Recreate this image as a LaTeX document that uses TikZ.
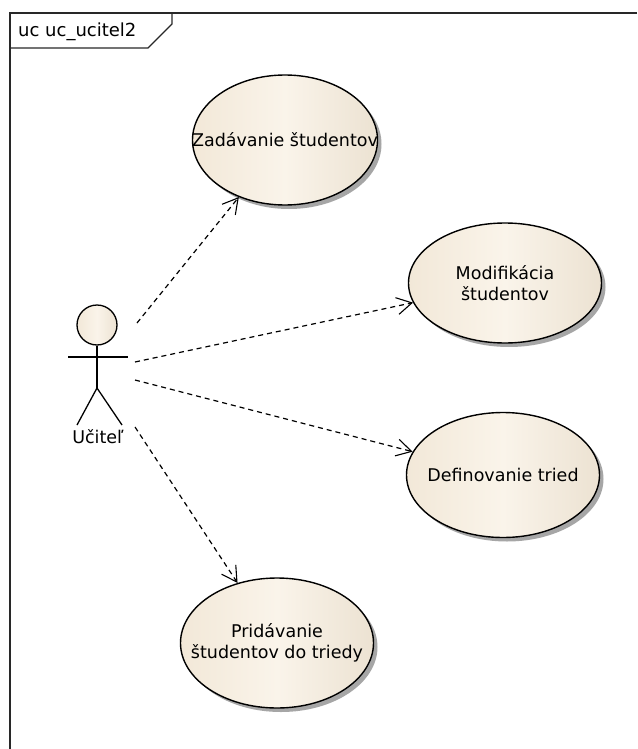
\documentclass[tikz,border=0pt]{standalone}
\usepackage{fontspec}
\setmainfont{DejaVu Sans}
\usetikzlibrary{shapes.geometric,shadows,arrows.meta}
\definecolor{ucL}{RGB}{242,232,216}
\definecolor{ucM}{RGB}{250,244,234}
\definecolor{ucR}{RGB}{236,226,210}
\definecolor{frameC}{RGB}{40,40,40}
\tikzset{
  usecase/.style={ellipse, draw=black, line width=1.4pt, inner sep=-60pt,
    minimum width=193pt, minimum height=130pt, align=center,
    left color=ucL, right color=ucR, middle color=ucM,
    font=\fontsize{17.5}{21}\selectfont,
    drop shadow={shadow xshift=4pt, shadow yshift=-4pt, fill=black!35, opacity=1}},
  assoc/.style={line width=1.2pt, dash pattern=on 5pt off 4pt,
    -{Straight Barb[length=15pt,width=17pt,line width=1.1pt]}},
  actorline/.style={line width=1.3pt, draw=black},
  framebox/.style={line width=1.4pt, draw=frameC}
}
\begin{document}
\begin{tikzpicture}[x=1pt,y=-1pt]
  \useasboundingbox (0,0) rectangle (637,749);
  \fill[white] (0,0) rectangle (637,749);

  % diagram frame with name tab
  \draw[framebox] (637,13) -- (10,13) -- (10,749);
  \draw[framebox] (10,48) -- (148,48) -- (172,24) -- (172,13);
  \node[anchor=base west, font=\fontsize{18}{20}\selectfont, inner sep=0pt] (title) at (18,37) {uc uc\_ucitel2};

  % actor
  \node[circle, draw=black, line width=1.3pt, minimum size=40pt, inner sep=0pt,
        left color=ucL, right color=ucR, middle color=ucM] (head) at (97,325) {};
  \coordinate (hip) at (97,388);
  \coordinate (armL) at (68,357);
  \coordinate (armR) at (128,357);
  \coordinate (footL) at (77,425);
  \coordinate (footR) at (122,425);
  \draw[actorline] (head.south) -- (hip);
  \draw[actorline] (armL) -- (armR);
  \draw[actorline] (footL) -- (hip) -- (footR);
  \node[font=\fontsize{17.5}{20}\selectfont, inner sep=0pt] (actorlabel) at (98,437) {Učiteľ};

  % use cases
  \node[usecase, minimum width=185pt] (uc1) at (285,140) {Zadávanie študentov};
  \node[usecase, minimum height=120pt] (uc2) at (505,283) {Modifikácia\\študentov};
  \node[usecase, minimum height=125pt] (uc3) at (503,475) {Definovanie tried};
  \node[usecase] (uc4) at (277,643) {Pridávanie\\študentov do triedy};

  % association ends at the actor
  \coordinate (s1) at (137,323);
  \coordinate (s2) at (135,362);
  \coordinate (s3) at (135,380);
  \coordinate (s4) at (135,427);

  \draw[assoc] (s1) -- (uc1);
  \draw[assoc] (s2) -- (uc2);
  \draw[assoc] (s3) -- (uc3);
  \draw[assoc] (s4) -- (uc4);
\end{tikzpicture}
\end{document}
